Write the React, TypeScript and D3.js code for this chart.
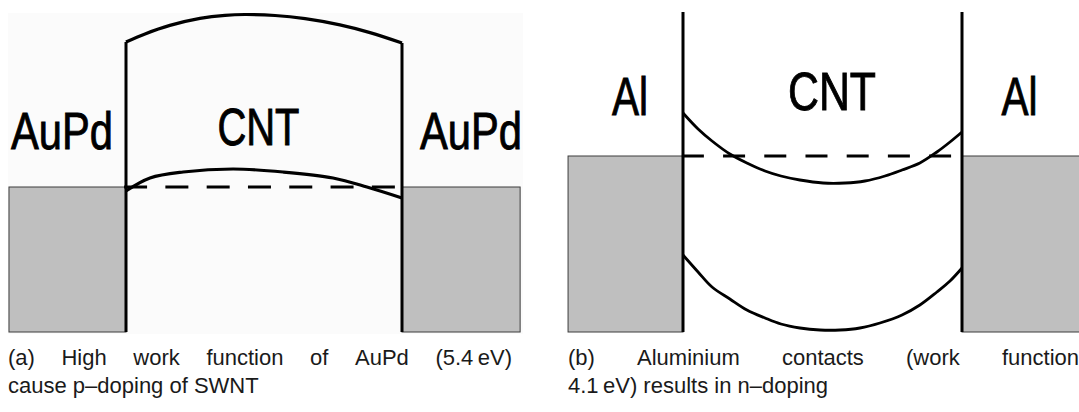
import React, { useEffect, useRef } from "react";
import * as d3 from "d3";

type Pt = [number, number];

// Band edges along the nanotube channel.
// [position along the channel (0 = left contact, 1 = right contact), energy relative to the metal Fermi level]
const auPdConduction: Pt[] = [
  [0, 14.5], [0.069, 15.31], [0.159, 16.16], [0.268, 16.86], [0.359, 17.17], [0.431, 17.25],
  [0.54, 17.15], [0.649, 16.83], [0.775, 16.21], [0.884, 15.44], [1, 14.4],
];
const auPdValence: Pt[] = [
  [0, -0.4], [0.087, 0.9], [0.207, 1.5], [0.388, 1.8], [0.569, 1.5], [0.75, 0.9], [0.873, 0.0], [1, -1.1],
];
const alConduction: Pt[] = [
  [0, 4.3], [0.054, 2.7], [0.104, 1.5], [0.168, 0.2], [0.229, -0.7], [0.294, -1.5],
  [0.351, -2.0], [0.419, -2.4], [0.502, -2.7], [0.581, -2.7], [0.652, -2.5],
  [0.724, -2.0], [0.785, -1.4], [0.849, -0.7], [0.91, 0.4], [0.957, 1.4], [1, 2.4],
];
const alValence: Pt[] = [
  [0, -9.9], [0.054, -11.6], [0.104, -13.1], [0.168, -14.3], [0.229, -15.4], [0.294, -16.2],
  [0.351, -16.8], [0.419, -17.2], [0.491, -17.4], [0.563, -17.4], [0.634, -17.2],
  [0.706, -16.7], [0.785, -15.9], [0.849, -14.9], [0.91, -13.6], [0.957, -12.5], [1, -11.2],
];

// Region labels
const contactNames = ["AuPd", "Al"];
const channelName = "CNT";

// Captions (first line justified, second line ragged)
const captionA = ["(a) High work function of AuPd (5.4\u2009eV)", "cause p\u2013doping of SWNT"];
const captionB = ["(b) Aluminium contacts (work function", "4.1\u2009eV) results in n\u2013doping"];

const W = 1079;
const H = 412;
const FONT = "'Liberation Sans', Arial, Helvetica, sans-serif";

interface PanelSpec {
  x0: number;
  x1: number;
  fermiY: number;
  pxPerUnit: number;
  metalLeft: number;
  metalRight: number;
  bottomE: number;
  topE: number | null;
  conduction: Pt[];
  valence: Pt[];
  contact: string;
  contactSize: number;
  contactWidth: number;
  contactLeftX: number;
  contactRightX: number;
  contactE: number;
  channelSize: number;
  channelWidth: number;
  channelX: number;
  channelE: number;
  dashStart: number;
  dash: string;
  curveWidth: number;
  background: boolean;
}

function drawPanel(g: d3.Selection<SVGGElement, unknown, null, undefined>, p: PanelSpec) {
  const x = d3.scaleLinear().domain([0, 1]).range([p.x0, p.x1]);
  const y = d3.scaleLinear().domain([0, 10]).range([p.fermiY, p.fermiY - 10 * p.pxPerUnit]);

  if (p.background) {
    g.append("rect")
      .attr("x", x(-p.metalLeft) - 1)
      .attr("y", 13)
      .attr("width", x(1 + p.metalRight) - x(-p.metalLeft) + 4)
      .attr("height", y(p.bottomE) - 13 + 2)
      .attr("fill", "#fbfbfb");
  }

  // Metal contacts filled up to the Fermi level
  const metals: [number, number][] = [[-p.metalLeft, 0], [1, 1 + p.metalRight]];
  g.selectAll("rect.metal")
    .data(metals)
    .join("rect")
    .attr("class", "metal")
    .attr("x", (d) => x(d[0]))
    .attr("y", y(0))
    .attr("width", (d) => x(d[1]) - x(d[0]))
    .attr("height", y(p.bottomE) - y(0))
    .attr("fill", "#bfbfbf")
    .attr("stroke", "#3c3c3c")
    .attr("stroke-width", 1);

  // Fermi level through the channel
  g.append("line")
    .attr("x1", x(p.dashStart))
    .attr("x2", x(1))
    .attr("y1", y(0))
    .attr("y2", y(0))
    .attr("stroke", "#000")
    .attr("stroke-width", 3)
    .attr("stroke-dasharray", p.dash);

  // Contact interfaces
  const topL = p.topE ?? p.conduction[0][1];
  const topR = p.topE ?? p.conduction[p.conduction.length - 1][1];
  g.selectAll("line.iface")
    .data([[0, topL], [1, topR]])
    .join("line")
    .attr("class", "iface")
    .attr("x1", (d) => x(d[0]))
    .attr("x2", (d) => x(d[0]))
    .attr("y1", (d) => y(d[1]))
    .attr("y2", y(p.bottomE))
    .attr("stroke", "#000")
    .attr("stroke-width", 3);

  // Band edges
  const line = d3
    .line<Pt>()
    .x((d) => x(d[0]))
    .y((d) => y(d[1]))
    .curve(d3.curveCatmullRom.alpha(0.5));
  g.selectAll("path.band")
    .data([p.conduction, p.valence])
    .join("path")
    .attr("class", "band")
    .attr("d", (d) => line(d))
    .attr("fill", "none")
    .attr("stroke", "#000")
    .attr("stroke-width", p.curveWidth)
    .attr("stroke-linejoin", "round");

  // Labels
  const labels = [
    { t: p.contact, cx: p.contactLeftX, e: p.contactE, s: p.contactSize, w: p.contactWidth },
    { t: p.contact, cx: p.contactRightX, e: p.contactE, s: p.contactSize, w: p.contactWidth },
    { t: channelName, cx: p.channelX, e: p.channelE, s: p.channelSize, w: p.channelWidth },
  ];
  g.selectAll("text.lbl")
    .data(labels)
    .join("text")
    .attr("class", "lbl")
    .attr("x", (d) => x(d.cx) - d.w / 2)
    .attr("y", (d) => y(d.e))
    .attr("font-family", FONT)
    .attr("font-size", (d) => d.s)
    .attr("textLength", (d) => d.w)
    .attr("lengthAdjust", "spacingAndGlyphs")
    .attr("fill", "#000")
    .attr("stroke", "#000")
    .attr("stroke-width", 0.9)
    .text((d) => d.t);
}

function drawCaption(
  g: d3.Selection<SVGGElement, unknown, null, undefined>,
  lines: string[],
  left: number,
  right: number,
  baselines: number[]
) {
  const words = lines[0].split(" ");
  const texts = g
    .selectAll<SVGTextElement, string>("text.w")
    .data(words)
    .join("text")
    .attr("class", "w")
    .attr("y", baselines[0])
    .attr("font-family", FONT)
    .attr("font-size", 22)
    .attr("fill", "#1a1a1a")
    .text((d) => d);
  const widths = texts.nodes().map((n) => n.getComputedTextLength());
  const gap = (right - left - d3.sum(widths)) / (words.length - 1);
  texts.attr("x", (_d, i) => left + d3.sum(widths.slice(0, i)) + gap * i);

  g.append("text")
    .attr("x", left)
    .attr("y", baselines[1])
    .attr("font-family", FONT)
    .attr("font-size", 22)
    .attr("fill", "#1a1a1a")
    .text(lines[1]);
}

export default function App() {
  const ref = useRef<SVGSVGElement>(null);

  useEffect(() => {
    const svg = d3.select(ref.current);
    svg.selectAll("*").remove();

    const gA = svg.append("g");
    drawPanel(gA, {
      x0: 126, x1: 402, fermiY: 187, pxPerUnit: 10,
      metalLeft: 0.424, metalRight: 0.428, bottomE: -14.5, topE: null,
      conduction: auPdConduction, valence: auPdValence,
      contact: contactNames[0], contactSize: 52, contactWidth: 102,
      contactLeftX: -0.232, contactRightX: 1.25, contactE: 3.8,
      channelSize: 52, channelWidth: 82, channelX: 0.48, channelE: 4.2,
      dashStart: -0.007, dash: "23 18.3", curveWidth: 3.2, background: true,
    });

    const gB = svg.append("g");
    drawPanel(gB, {
      x0: 683, x1: 962, fermiY: 156, pxPerUnit: 10,
      metalLeft: 0.412, metalRight: 0.43, bottomE: -17.6, topE: 14.4,
      conduction: alConduction, valence: alValence,
      contact: contactNames[1], contactSize: 54, contactWidth: 36,
      contactLeftX: -0.19, contactRightX: 1.206, contactE: 4.1,
      channelSize: 54, channelWidth: 88, channelX: 0.534, channelE: 4.6,
      dashStart: -0.004, dash: "22 19.2", curveWidth: 2.8, background: false,
    });

    drawCaption(svg.append("g"), captionA, 8, 512, [365, 393]);
    drawCaption(svg.append("g"), captionB, 568, 1079, [365, 393]);
  }, []);

  return (
    <svg
      ref={ref}
      width={W}
      height={H}
      viewBox={`0 0 ${W} ${H}`}
      style={{ position: "absolute", left: 0, top: 0, display: "block", background: "#fff" }}
    />
  );
}
